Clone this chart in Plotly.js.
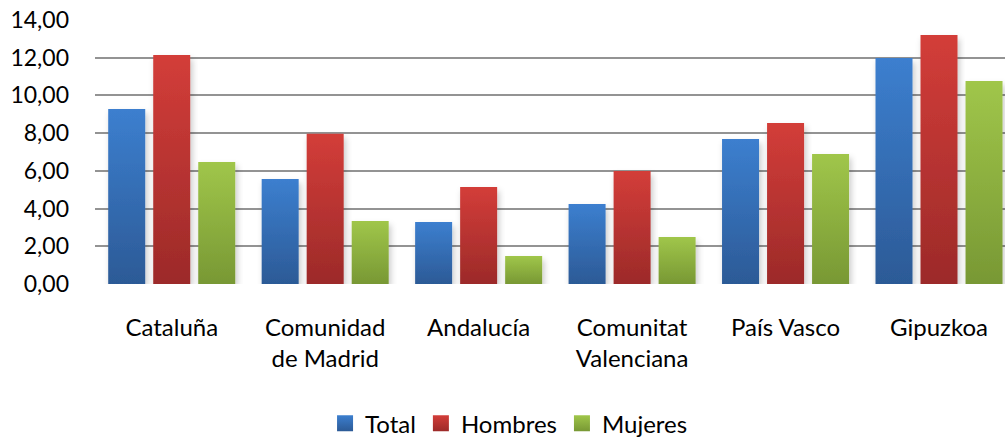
<!DOCTYPE html>
<html>
<head>
<meta charset="utf-8">
<script src="https://cdn.plot.ly/plotly-3.0.1.min.js"></script>
<style>html,body{margin:0;padding:0;background:#fff}#chart{width:1005px;height:439px}</style>
</head>
<body>
<div id="chart"></div>
<script>
const categories = ["Cataluña", "Comunidad<br>de Madrid", "Andalucía", "Comunitat<br>Valenciana", "País Vasco", "Gipuzkoa"];
const total   = [9.28, 5.57, 3.29, 4.24, 7.69, 11.98];
const hombres = [12.14, 7.97, 5.14, 5.99, 8.54, 13.20];
const mujeres = [6.47, 3.34, 1.48, 2.49, 6.89, 10.76];
const yTicks  = [0, 2, 4, 6, 8, 10, 12, 14];

const seriesNames = ["Total", "Hombres", "Mujeres"];
const seriesColors = ["#3570B8", "#BB3533", "#8DB03F"];
const gradStops = [["#3C7FCF", "#2C5A96"], ["#D33D39", "#9C2A29"], ["#A0C64A", "#789834"]];
const seriesData = [total, hombres, mujeres];

const xs = categories.map((_, i) => i);
const traces = seriesData.map((vals, k) => ({
  type: "bar",
  name: seriesNames[k],
  x: xs,
  y: vals,
  marker: { color: seriesColors[k], line: { width: 0 } },
  hoverinfo: "skip"
}));

const font = "Lato, 'Open Sans', sans-serif";
const layout = {
  width: 1005, height: 439,
  margin: { l: 95, r: 0, t: 20, b: 155, autoexpand: false },
  paper_bgcolor: "#fff", plot_bgcolor: "#fff",
  separators: ",.",
  barmode: "group",
  bargap: 0.12,
  bargroupgap: 0.178,
  showlegend: true,
  legend: {
    orientation: "h", x: 0.455, xanchor: "center",
    yref: "container", y: 0.035, yanchor: "middle",
    font: { family: font, size: 24, color: "#000" },
    itemwidth: 30, tracegroupgap: 0
  },
  xaxis: {
    range: [-0.5, 5.43],
    tickvals: xs, ticktext: categories,
    showgrid: false, zeroline: false, showline: false,
    ticks: "", ticklabelstandoff: 27,
    tickfont: { family: font, size: 24, color: "#000" },
    fixedrange: true
  },
  yaxis: {
    range: [0, 14],
    tickvals: yTicks, tickformat: ".2f",
    showgrid: true, gridcolor: "#939393", gridwidth: 2,
    zeroline: false, showline: false,
    ticks: "", ticklabelstandoff: 25,
    tickfont: { family: font, size: 23, color: "#000" },
    fixedrange: true
  }
};

Plotly.newPlot("chart", traces, layout, { displayModeBar: false, staticPlot: true }).then(gd => {
  const svg = gd.querySelector(".main-svg");
  const ns = "http://www.w3.org/2000/svg";
  let defs = svg.querySelector("defs");
  if (!defs) { defs = document.createElementNS(ns, "defs"); svg.insertBefore(defs, svg.firstChild); }
  gradStops.forEach((st, k) => {
    const g = document.createElementNS(ns, "linearGradient");
    g.setAttribute("id", "bargrad" + k);
    g.setAttribute("x1", "0"); g.setAttribute("y1", "0");
    g.setAttribute("x2", "0"); g.setAttribute("y2", "1");
    [[0, st[0]], [1, st[1]]].forEach(([o, c]) => {
      const s = document.createElementNS(ns, "stop");
      s.setAttribute("offset", o); s.setAttribute("stop-color", c);
      g.appendChild(s);
    });
    defs.appendChild(g);
  });
  const f = document.createElementNS(ns, "filter");
  f.setAttribute("id", "barshadow");
  f.setAttribute("x", "-20%"); f.setAttribute("y", "-10%");
  f.setAttribute("width", "140%"); f.setAttribute("height", "130%");
  const ds = document.createElementNS(ns, "feDropShadow");
  ds.setAttribute("dx", "2"); ds.setAttribute("dy", "4");
  ds.setAttribute("stdDeviation", "3"); ds.setAttribute("flood-color", "#000");
  ds.setAttribute("flood-opacity", "0.22");
  f.appendChild(ds); defs.appendChild(f);

  gd.querySelectorAll(".barlayer .trace").forEach((tr, k) => {
    tr.querySelectorAll(".point path").forEach(p => {
      p.style.fill = "url(#bargrad" + k + ")";
      p.setAttribute("filter", "url(#barshadow)");
    });
  });
  gd.querySelectorAll(".legend .traces").forEach((tr, k) => {
    tr.querySelectorAll(".legendpoints path").forEach(p => {
      p.style.fill = "url(#bargrad" + k + ")";
      p.setAttribute("d", "M8,8H-8V-8H8Z");
    });
  });
});
</script>
</body>
</html>
